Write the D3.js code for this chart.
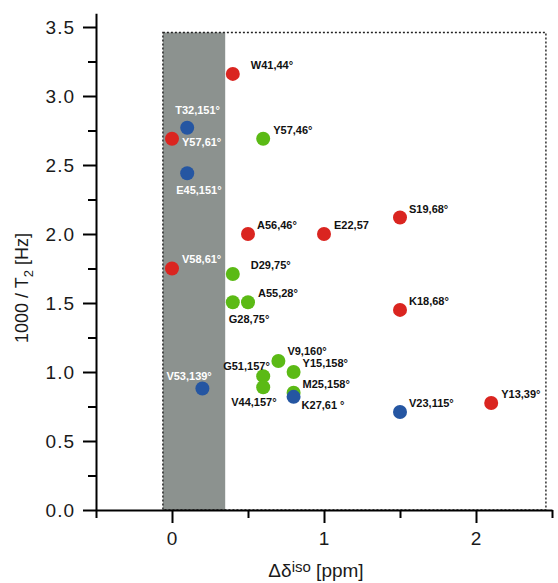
<!DOCTYPE html>
<html>
<head>
<meta charset="utf-8">
<script src="https://d3js.org/d3.v7.min.js"></script>
<style>
  body { margin: 0; background: #fff; }
  svg { display: block; font-family: "Liberation Sans", Arial, sans-serif; }
</style>
</head>
<body>
<svg id="chart" width="558" height="583"></svg>
<script>
// residues: shift difference (ppm), 1000/T2 (Hz), group
var names  = ["W41,44°", "Y57,61°", "A56,46°", "V58,61°", "E22,57", "S19,68°", "K18,68°", "Y13,39°",
              "Y57,46°", "D29,75°", "G28,75°", "A55,28°", "V9,160°", "Y15,158°", "G51,157°", "V44,157°", "M25,158°",
              "T32,151°", "E45,151°", "V53,139°", "K27,61 °", "V23,115°"];
var deltaIso = [0.40, 0.00, 0.50, 0.00, 1.00, 1.50, 1.50, 2.10,
                0.60, 0.40, 0.40, 0.50, 0.70, 0.80, 0.60, 0.60, 0.80,
                0.10, 0.10, 0.20, 0.80, 1.50];
var invT2  = [3.16, 2.69, 2.00, 1.75, 2.00, 2.12, 1.45, 0.775,
              2.69, 1.71, 1.505, 1.505, 1.08, 1.00, 0.97, 0.89, 0.85,
              2.77, 2.44, 0.88, 0.82, 0.71];
var groups = ["red", "red", "red", "red", "red", "red", "red", "red",
              "green", "green", "green", "green", "green", "green", "green", "green", "green",
              "blue", "blue", "blue", "blue", "blue"];

// shaded band and dotted frame, in data units
var bandX  = [-0.06, 0.35];
var frameX = [-0.06, 2.46];
var frameTop = 3.46;

var xMajor = [0, 1, 2];
var xMinor = [-0.5, 0.5, 1.5, 2.5];
var yMajor = [0, 0.5, 1, 1.5, 2, 2.5, 3, 3.5];
var yMinor = [0.25, 0.75, 1.25, 1.75, 2.25, 2.75, 3.25];

// label placement (px from point centre), kept apart from the data
var labelDx = [18, 10, 9, 10, 10, 9, 9, 10,
               10, 18, -4, 10, 9, 9, -40, -32, 9,
               -12, -11, -36, 8, 9];
var labelDy = [-5, 7, -5, -6, -5, -4, -5, -5,
               -5, -5, 21, -5, -6, -5, -6, 19, -5,
               -14, 21, -9, 12, -5];

var colors = { red: "#da2520", green: "#5bba15", blue: "#2556a2" };

var svg = d3.select("#chart");

var x = d3.scaleLinear().domain([-0.5, 2.5]).range([96, 552]);
var y = d3.scaleLinear().domain([0, 3.6]).range([510, 13.2]);

// grey band + dotted frame
svg.append("rect")
    .attr("x", x(bandX[0])).attr("y", y(frameTop))
    .attr("width", x(bandX[1]) - x(bandX[0]))
    .attr("height", y(0) - y(frameTop))
    .attr("fill", "#8c928f");

svg.append("rect")
    .attr("x", x(frameX[0])).attr("y", y(frameTop))
    .attr("width", x(frameX[1]) - x(frameX[0]))
    .attr("height", y(0) - y(frameTop))
    .attr("fill", "none")
    .attr("stroke", "#222")
    .attr("stroke-width", 1.4)
    .attr("stroke-dasharray", "2,2");

// axes
function styleAxis(g) {
    g.selectAll("path, line").attr("stroke", "#000").attr("stroke-width", 2);
    g.selectAll("text").attr("fill", "#1a1a1a").style("font-size", "19px")
        .style("letter-spacing", "1px")
        .style("font-family", "'Liberation Sans', Arial, sans-serif");
}

svg.append("g").attr("transform", "translate(" + x(-0.5) + ",0)")
    .call(d3.axisLeft(y).tickValues(yMinor).tickSize(8).tickSizeOuter(0).tickFormat(""))
    .call(styleAxis);
svg.append("g").attr("transform", "translate(" + x(-0.5) + ",0)")
    .call(d3.axisLeft(y).tickValues(yMajor).tickSize(13).tickSizeOuter(0).tickPadding(8)
        .tickFormat(d3.format(".1f")))
    .call(styleAxis)
    .call(g => g.select(".domain").remove());

svg.append("g").attr("transform", "translate(0," + y(0) + ")")
    .call(d3.axisBottom(x).tickValues(xMinor).tickSize(8).tickSizeOuter(0).tickFormat(""))
    .call(styleAxis);
svg.append("g").attr("transform", "translate(0," + y(0) + ")")
    .call(d3.axisBottom(x).tickValues(xMajor).tickSize(13).tickSizeOuter(0).tickPadding(9)
        .tickFormat(d3.format("d")))
    .call(styleAxis)
    .call(g => g.select(".domain").remove());

// axis titles
var yTitle = svg.append("text")
    .attr("transform", "translate(28,288) rotate(-90)")
    .attr("text-anchor", "middle")
    .attr("fill", "#1a1a1a")
    .style("font-size", "18px");
yTitle.append("tspan").text("1000 / T");
yTitle.append("tspan").attr("dy", 5).style("font-size", "13px").text("2");
yTitle.append("tspan").attr("dy", -5).text(" [Hz]");

var xTitle = svg.append("text")
    .attr("x", 316).attr("y", 577)
    .attr("text-anchor", "middle")
    .attr("fill", "#1a1a1a")
    .style("font-size", "19px");
xTitle.append("tspan").text("Δδ");
xTitle.append("tspan").attr("dy", -5).style("font-size", "15px").text("iso");
xTitle.append("tspan").attr("dy", 5).text(" [ppm]");

// points: green first, then red, blue on top
var idx = d3.range(names.length);
var order = { green: 0, red: 1, blue: 2 };
idx.sort((a, b) => order[groups[a]] - order[groups[b]]);

svg.append("g").selectAll("circle")
    .data(idx)
    .join("circle")
    .attr("cx", i => x(deltaIso[i]))
    .attr("cy", i => y(invT2[i]))
    .attr("r", 7)
    .attr("fill", i => colors[groups[i]]);

// labels; those inside the grey band are white
svg.append("g").selectAll("text")
    .data(d3.range(names.length))
    .join("text")
    .attr("x", i => x(deltaIso[i]) + labelDx[i])
    .attr("y", i => y(invT2[i]) + labelDy[i])
    .attr("fill", i => deltaIso[i] < bandX[1] ? "#ffffff" : "#111")
    .style("font-size", "11px")
    .style("font-weight", "bold")
    .text(i => names[i]);
</script>
</body>
</html>
